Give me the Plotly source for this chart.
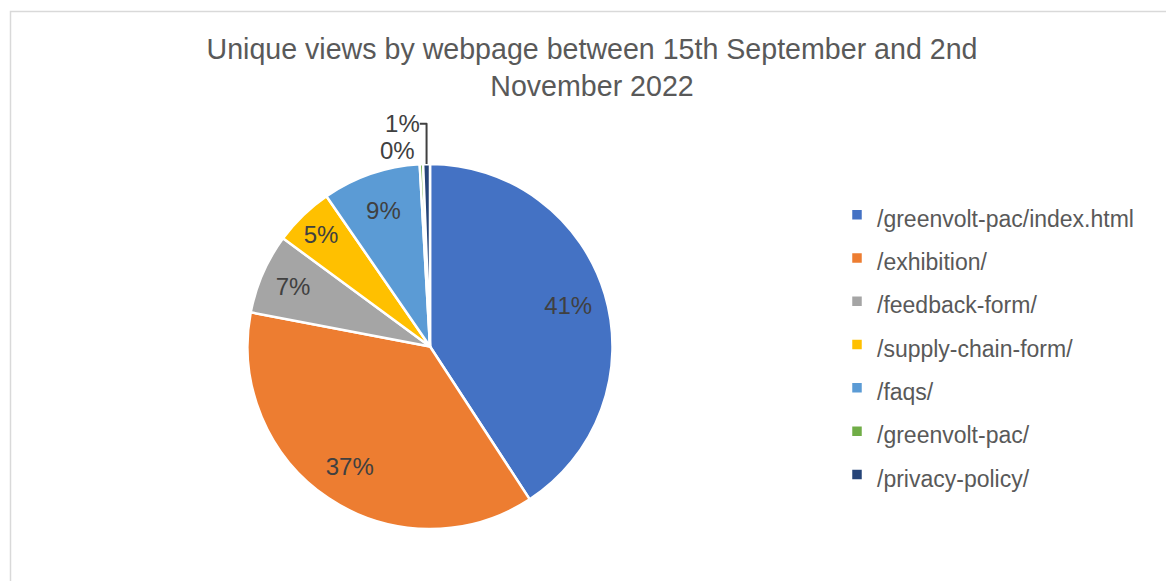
import plotly.graph_objects as go

categories = ["/greenvolt-pac/index.html", "/exhibition/", "/feedback-form/",
              "/supply-chain-form/", "/faqs/", "/greenvolt-pac/", "/privacy-policy/"]
views = [408, 372, 71, 53, 87, 3, 6]
colors = ["#4472C4", "#ED7D31", "#A5A5A5", "#FFC000", "#5B9BD5", "#70AD47", "#264478"]
# big slices get their label from a transparent ring so it sits further out (as in Excel)
main_text_pos = ["none", "none", "inside", "inside", "inside", "outside", "outside"]
ring_text_pos = ["inside", "inside", "none", "none", "none", "none", "none"]
title_text = "Unique views by webpage between 15th September and 2nd<br>November 2022"

W, H = 1166, 581
FONT = "Liberation Sans, Arial, sans-serif"
legend_labels = ['<span style="font-size:23px">%s</span>' % c for c in categories]
domain = dict(x=[247.5 / W, 612.5 / W], y=[1 - 529 / H, 1 - 164 / H])
label_font = dict(family=FONT, size=24, color="#404040")

fig = go.Figure()
fig.add_trace(go.Pie(
    labels=legend_labels,
    values=views,
    sort=False,
    direction="clockwise",
    rotation=0,
    marker=dict(colors=colors, line=dict(color="white", width=2.5)),
    texttemplate="%{percent:.0%}",
    textposition=main_text_pos,
    insidetextorientation="horizontal",
    insidetextfont=label_font,
    outsidetextfont=label_font,
    hoverinfo="label+percent",
    domain=domain,
))
fig.add_trace(go.Pie(
    labels=legend_labels,
    values=views,
    sort=False,
    direction="clockwise",
    rotation=0,
    hole=0.58,
    marker=dict(colors=["rgba(0,0,0,0)"] * len(views), line=dict(width=0)),
    texttemplate="%{percent:.0%}",
    textposition=ring_text_pos,
    insidetextorientation="horizontal",
    insidetextfont=label_font,
    hoverinfo="skip",
    showlegend=False,
    domain=domain,
))

fig.update_layout(
    width=W, height=H,
    margin=dict(l=0, r=0, t=0, b=0),
    paper_bgcolor="white",
    plot_bgcolor="white",
    font=dict(family=FONT, color="#595959"),
    title=dict(text=title_text, x=592 / W, xanchor="center", xref="paper",
               y=1 - 59 / H, yanchor="top", yref="container",
               font=dict(size=28.6, color="#595959")),
    legend=dict(x=837 / W, y=1 - 188 / H, xanchor="left", yanchor="top",
                font=dict(size=31, color="#595959"), bgcolor="rgba(0,0,0,0)"),
    shapes=[dict(type="rect", xref="paper", yref="paper",
                 x0=10.5 / W, x1=1.05, y0=-0.05, y1=1 - 11.5 / H,
                 line=dict(color="#D9D9D9", width=1.5), fillcolor="rgba(0,0,0,0)")],
)

fig.write_html("out.html", config={"displayModeBar": False},
               post_script="document.body.style.margin='0';")
